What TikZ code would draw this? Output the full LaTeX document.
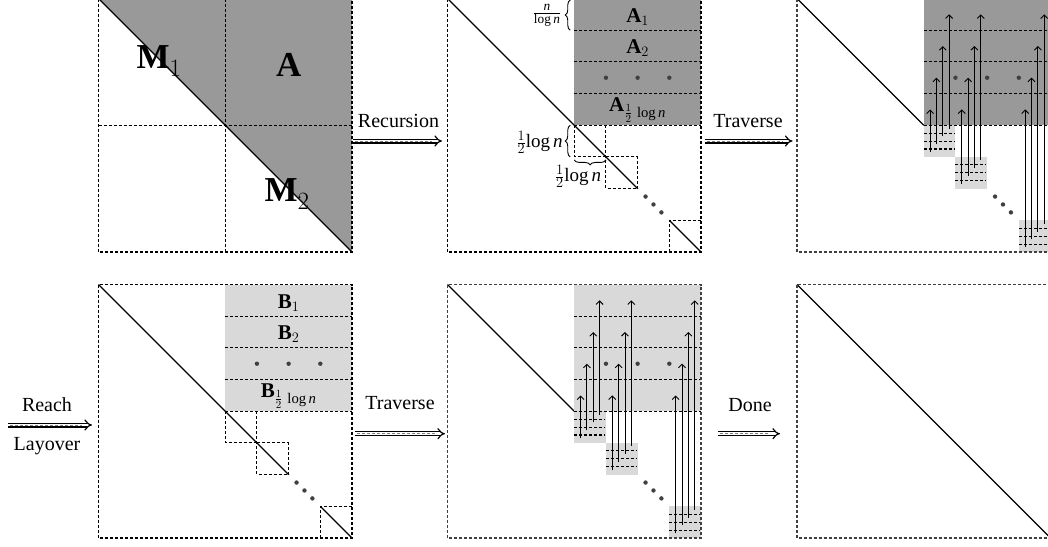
\documentclass[tikz,border=0pt]{standalone}
\usepackage{fontspec}
\setmainfont{Liberation Serif}
\usetikzlibrary{arrows.meta,decorations.pathreplacing}
\definecolor{dkgray}{RGB}{153,153,153}
\definecolor{ltgray}{RGB}{217,217,217}
\definecolor{dotc}{RGB}{64,64,64}
\def\SZ{253.5}
\def\SH{126.75}
\def\SE{31.6875}
\def\ST{7.921875}
\tikzset{
  dsh/.style={line width=1.1pt, dash pattern=on 3pt off 2pt},
  diag/.style={line width=1.1pt},
  trav/.style={line width=0.9pt, -{Straight Barb[length=3.5pt,width=7pt]}},
  dbl/.style={double, double distance=2.6pt, line width=1.2pt, -{Implies}},
  dblmid/.style={gray, line width=0.6pt, dash pattern=on 3pt off 2pt},
  lbl/.style={font=\fontsize{20}{24}\selectfont, inner sep=0pt},
  mlbl/.style={font=\fontsize{21}{25}\selectfont, inner sep=0pt},
  slbl/.style={font=\fontsize{19}{23}\selectfont, inner sep=0pt},
  biglbl/.style={font=\fontsize{35}{40}\selectfont, inner sep=0pt},
  brc/.style={decorate, decoration={brace, amplitude=5pt}, line width=0.9pt},
}
\newcommand\blockrows[1]{%
  \fill[#1] (\SH,0) rectangle (\SZ,\SH);
  \foreach \k in {1,2,3} \draw[dsh] (\SH,\k*\SE) -- (\SZ,\k*\SE);
  \draw[dsh] (\SH,\SH) -- (\SZ,\SH);
  \foreach \k in {5,6,7} \fill[dotc] (\k*\SE,2.5*\SE) circle (2.2pt);
}
\newcommand\diagdots{%
  \foreach \k in {25,26,27} \fill[dotc] (\k*\ST,\k*\ST) circle (2.2pt);
}
\newcommand\diagsquares{%
  \draw[diag] (0,0) -- (6*\SE,6*\SE);
  \draw[diag] (7*\SE,7*\SE) -- (\SZ,\SZ);
  \draw[dsh] (4*\SE,4*\SE) -- (4*\SE,5*\SE) -- (5*\SE,5*\SE);
  \draw[dsh] (5*\SE,4*\SE) -- (5*\SE,5*\SE) -- (5*\SE,6*\SE) -- (6*\SE,6*\SE) -- (6*\SE,5*\SE) -- (5*\SE,5*\SE);
  \draw[dsh] (7*\SE,8*\SE) -- (7*\SE,7*\SE) -- (8*\SE,7*\SE);
  \diagdots
}
\newcommand\travpanel[1]{%
  \draw[diag] (0,0) -- (\SH,\SH);
  \blockrows{#1}
  \foreach \bb in {4,5,7} {
    \fill[ltgray] (\bb*\SE,\bb*\SE) rectangle ({(\bb+1)*\SE},{(\bb+1)*\SE});
    \foreach \mm in {1,2,3}
      \draw[dsh] (\bb*\SE,{\bb*\SE+\mm*\ST}) -- ({(\bb+1)*\SE-1.5},{\bb*\SE+\mm*\ST});
    \foreach \jj in {1,2,3,4}
      \draw[trav] ({\bb*\SE+\jj*\SZ/40},{\bb*\SE+(4-\jj)*\ST+3.3}) -- ({\bb*\SE+\jj*\SZ/40},{(4.5-\jj)*\SE});
  }
  \draw[dsh] (\SH,\SH) -- (\SZ,\SH);
  \diagdots
}
\begin{document}
\begin{tikzpicture}[x=1pt,y=-1pt]
\useasboundingbox (0,0) rectangle (1048,546);
\fill[white] (0,0) rectangle (1048,546);

% ---------- top row, panel 1 ----------
\begin{scope}[shift={(98.5,-1.5)}]
  \fill[dkgray] (0,0) -- (\SZ,0) -- (\SZ,\SZ) -- cycle;
  \draw[diag] (0,0) -- (\SZ,\SZ);
  \draw[dsh] (\SH,0) -- (\SH,\SZ);
  \draw[dsh] (0,\SH) -- (\SZ,\SH);
  \draw[dsh] (0,0) rectangle (\SZ,\SZ);
  \node[biglbl] (m1) at (60.5,62.5) {$\mathbf{M}_1$};
  \node[biglbl] (a) at (190.2,66.5) {$\mathbf{A}$};
  \node[biglbl] (m2) at (188.5,195.5) {$\mathbf{M}_2$};
\end{scope}

% ---------- top row, panel 2 ----------
\begin{scope}[shift={(447.5,-1.5)}]
  \blockrows{dkgray}
  \diagsquares
  \draw[dsh] (0,0) rectangle (\SZ,\SZ);
  \node[mlbl] (a1) at (3*\SE*2,18.5) {$\mathbf{A}_1$};
  \node[mlbl] (a2) at (3*\SE*2,50) {$\mathbf{A}_2$};
  \node[mlbl] (ak) at (3*\SE*2,111.5) {$\mathbf{A}_{\frac{1}{2}\,\log\mathit{n}}$};
  \draw[brc] ({\SH-4},\SE) -- ({\SH-4},1.5);
  \node[slbl] (fr1) at (99.5,16.5) {$\frac{\mathit{n}}{\log\mathit{n}}$};
  \draw[brc] ({\SH-4},5*\SE) -- ({\SH-4},\SH);
  \node[slbl] (fr2) at (92,143.5) {$\frac{1}{2}\!\log\mathit{n}$};
  \draw[brc] (5*\SE,{5*\SE+3}) -- (4*\SE,{5*\SE+3});
  \node[slbl] (fr3) at (130.5,177.5) {$\frac{1}{2}\!\log\mathit{n}$};
\end{scope}

% ---------- top row, panel 3 ----------
\begin{scope}[shift={(797,-1.5)}]
  \travpanel{dkgray}
  \draw[dsh, black!75] (0,0) rectangle (\SZ,\SZ);
\end{scope}

% ---------- bottom row, panel 1 ----------
\begin{scope}[shift={(98.5,284.5)}]
  \blockrows{ltgray}
  \diagsquares
  \draw[dsh] (0,0) rectangle (\SZ,\SZ);
  \node[mlbl] (b1) at (3*\SE*2,18.5) {$\mathbf{B}_1$};
  \node[mlbl] (b2) at (3*\SE*2,50) {$\mathbf{B}_2$};
  \node[mlbl] (bk) at (3*\SE*2,111.5) {$\mathbf{B}_{\frac{1}{2}\,\log\mathit{n}}$};
\end{scope}

% ---------- bottom row, panel 2 ----------
\begin{scope}[shift={(447.5,284.5)}]
  \travpanel{ltgray}
  \draw[dsh, black!75] (0,0) rectangle (\SZ,\SZ);
\end{scope}

% ---------- bottom row, panel 3 ----------
\begin{scope}[shift={(797,284.5)}]
  \draw[diag] (0,0) -- (\SZ,\SZ);
  \draw[dsh, black!75] (0,0) rectangle (\SZ,\SZ);
\end{scope}

% ---------- transition arrows ----------
\coordinate (rs) at (353,141);   \coordinate (re) at (442,141);
\coordinate (ts) at (705,141);   \coordinate (te) at (792.5,141);
\coordinate (ls) at (8,425);     \coordinate (le) at (92,425);
\coordinate (us) at (355,433.7); \coordinate (ue) at (445,433.7);
\coordinate (ds) at (718,433.7); \coordinate (de) at (780,433.7);
\foreach \s/\e in {rs/re, ts/te, ls/le, us/ue, ds/de} {
  \draw[dbl] (\s) -- (\e);
  \draw[dblmid] ([xshift=2pt]\s) -- ([xshift=-10pt]\e);
}
\node[lbl] (recl) at (398.5,121) {Recursion};
\node[lbl] (tr1l) at (748,121) {Traverse};
\node[lbl] (reachl) at (47,405) {Reach};
\node[lbl] (layl) at (47,446) {Layover};
\node[lbl] (tr2l) at (400,403.5) {Traverse};
\node[lbl] (donel) at (750,405) {Done};
\end{tikzpicture}
\end{document}
